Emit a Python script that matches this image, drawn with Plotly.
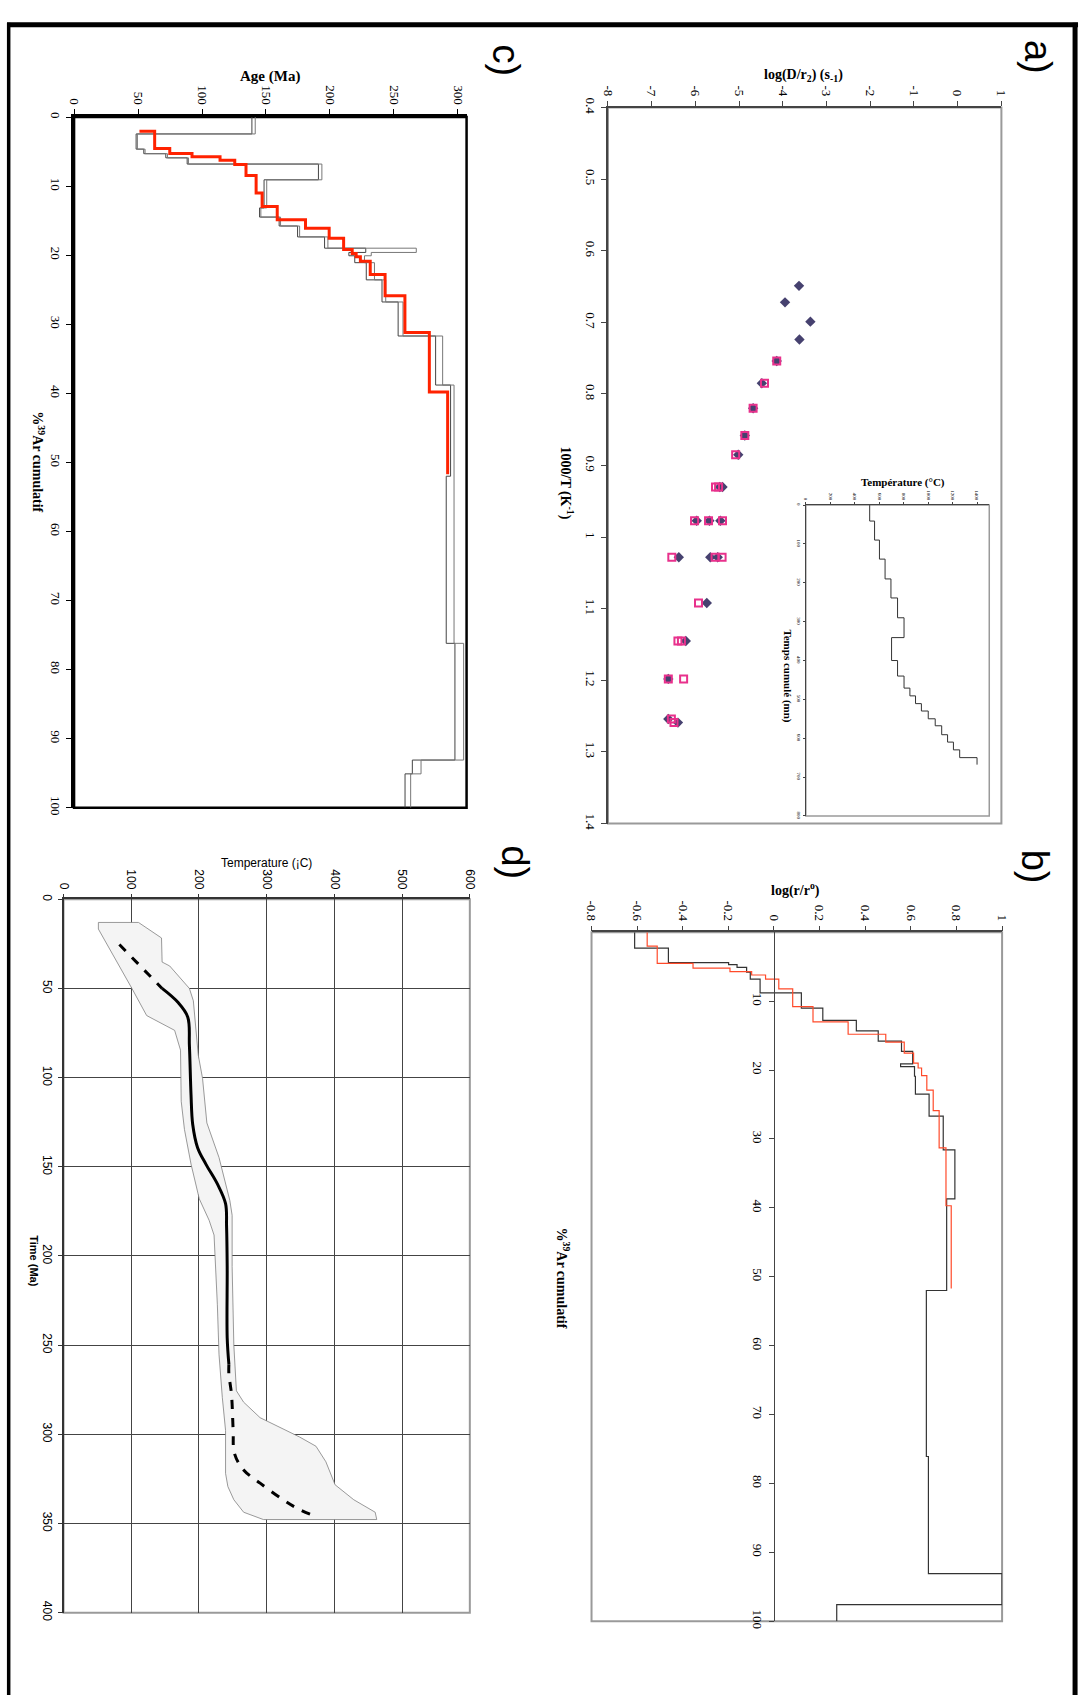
import plotly.graph_objects as go

W, H = 1088, 1704
SERIF = "Liberation Serif"
SANS = "Liberation Sans"

# ---------------- data ----------------
# a) Arrhenius plot
invT_diamond = [0.649, 0.672, 0.699, 0.724, 0.754, 0.785, 0.820, 0.858, 0.885, 0.930, 0.930,
                0.977, 0.977, 0.977, 1.028, 1.028, 1.028, 1.092, 1.145, 1.198, 1.254, 1.259]
logD_diamond = [-3.63, -3.95, -3.37, -3.62, -4.14, -4.48, -4.68, -4.87, -5.02, -5.44, -5.38,
                -5.97, -5.68, -5.43, -6.38, -5.66, -5.49, -5.74, -6.22, -6.62, -6.62, -6.40]
invT_square = [0.754, 0.785, 0.820, 0.858, 0.885, 0.930, 0.930, 0.977, 0.977, 0.977,
               1.028, 1.028, 1.028, 1.092, 1.145, 1.145, 1.198, 1.198, 1.254, 1.259]
logD_square = [-4.14, -4.42, -4.68, -4.87, -5.08, -5.54, -5.47, -6.02, -5.70, -5.38,
               -6.54, -5.55, -5.39, -5.93, -6.40, -6.32, -6.62, -6.27, -6.55, -6.49]

# a) inset: heating schedule
inset_time_bounds = [0, 41, 90, 139, 190, 239, 290, 341, 400, 440, 471, 491, 511, 530, 550,
                     568, 591, 610, 630, 650, 668]
inset_temp = [522, 562, 602, 648, 696, 750, 803, 701, 750, 803, 851, 897, 945, 1001, 1058,
              1111, 1159, 1207, 1258, 1400]

# b) log(r/ro) spectra
b_black_bounds = [0, 2.3, 4.4, 4.7, 5.1, 5.8, 6.8, 8.8, 11.0, 12.8, 14.3, 15.8, 17.3, 19.1, 19.5,
                  20.9, 23.5, 26.7, 31.6, 38.7, 52.0, 76.1, 93.1, 97.6, 100]
b_black_vals = [-0.611, -0.463, -0.199, -0.162, -0.120, -0.104, -0.061, 0.120, 0.214, 0.361,
                0.457, 0.559, 0.608, 0.555, 0.616, 0.620, 0.680, 0.742, 0.793, 0.757, 0.668,
                0.677, 1.0, 0.275]
b_red_bounds = [0, 2.0, 4.5, 5.2, 5.7, 6.2, 6.8, 8.2, 10.8, 13.0, 14.8, 15.95, 17.55, 19.0,
                19.7, 20.8, 22.9, 25.9, 31.3, 39.7, 51.7]
b_red_vals = [-0.556, -0.512, -0.355, -0.193, -0.098, -0.037, 0.021, 0.082, 0.171, 0.325,
              0.490, 0.571, 0.612, 0.632, 0.647, 0.670, 0.698, 0.724, 0.754, 0.777]

# c) age spectrum (boxes: low / high) and model (red)
c_bounds = [0, 2.44, 4.64, 5.3, 5.9, 6.8, 9.08, 13.15, 14.48, 15.77, 17.35, 18.98, 19.6, 20.08,
            21.08, 23.57, 26.77, 31.7, 38.8, 52.0, 76.2, 93.1, 95.1, 100]
c_age_low = [139.0, 48.5, 54.5, 71.7, 88.4, 191.0, 148.5, 145.0, 160.3, 174.7, 195.8, 228.0,
             214.8, 219.4, 228.4, 240.7, 253.3, 282.6, 294.3, 290.9, 297.7, 264.4, 258.7]
c_age_high = [141.6, 49.5, 55.5, 73.0, 89.4, 193.7, 150.6, 146.0, 161.4, 176.3, 198.4, 267.5,
              232.3, 227.0, 234.8, 243.6, 257.1, 288.1, 297.0, 297.0, 304.5, 271.2, 263.1]
c_red_start_age = 51.1
c_red_bounds = [2.06, 4.54, 5.26, 5.74, 6.26, 6.88, 8.46, 10.99, 12.95, 14.87, 16.11, 17.54,
                19.17, 19.74, 20.22, 20.89, 22.8, 25.86, 31.2, 39.8, 51.7]
c_red_ages = [63.0, 74.8, 92.2, 114.1, 125.6, 134.4, 142.3, 147.0, 158.8, 180.9, 199.4, 210.7,
              217.4, 220.5, 223.8, 231.5, 243.1, 258.6, 277.7, 292.0]

# d) thermal history
env_right_T = [110.7, 144.7, 145.6, 156.8, 185.9, 191.7, 199.0, 205.3, 211.7, 229.6, 245.6, 249.0,
               249.0, 251.5, 255.3, 266.0, 290.3, 319.4, 348.5, 372.8, 387.4, 401.0, 428.6, 460.2,
               462.6]
env_right_t = [13.0, 21.7, 35.2, 37.4, 50.0, 56.9, 87.4, 100.4, 125.4, 144.8, 168.9, 177.2,
               206.0, 250.0, 275.6, 282.0, 290.7, 296.3, 301.5, 306.7, 315.4, 328.3, 336.7, 343.7,
               347.8]
env_left_T = [295.1, 266.0, 251.5, 242.7, 239.3, 239.3, 234.5, 229.6, 227.2, 223.3, 222.3, 215.0,
              200.5, 188.3, 178.6, 173.8, 172.8, 164.1, 122.8, 101.0, 51.5, 51.5]
env_left_t = [347.8, 343.7, 336.7, 329.3, 321.9, 297.8, 279.3, 255.2, 227.4, 199.6, 188.3, 180.0,
              168.0, 148.5, 129.1, 113.3, 84.6, 73.5, 65.2, 50.0, 16.7, 13.0]
path_dash1_T = [82.5, 145.6]
path_dash1_t = [25.4, 50.0]
path_solid_T = [145.6, 168.9, 183.5, 185.9, 188.3, 190.8, 198.0, 210.2, 227.2, 239.3, 240.8,
                241.7, 241.7, 244.2]
path_solid_t = [50.0, 57.8, 66.1, 81.9, 109.6, 126.3, 139.3, 148.5, 159.6, 170.7, 183.7, 206.0,
                245.9, 260.7]
path_dash2_T = [244.2, 244.2, 248.0, 250.5, 252.4, 266.0, 290.3, 324.3, 348.5, 373.8]
path_dash2_t = [260.7, 266.3, 277.4, 297.8, 310.7, 320.0, 327.4, 336.7, 342.2, 346.3]

# tick labels
a_xticks = list(range(-8, 2))
a_yticks = [0.4, 0.5, 0.6, 0.7, 0.8, 0.9, 1.0, 1.1, 1.2, 1.3, 1.4]
a_ytext = ["0.4", "0.5", "0.6", "0.7", "0.8", "0.9", "1", "1.1", "1.2", "1.3", "1.4"]
ins_xticks = list(range(0, 1600, 200))
ins_yticks = list(range(0, 900, 100))
b_xticks = [-0.8, -0.6, -0.4, -0.2, 0, 0.2, 0.4, 0.6, 0.8, 1]
b_xtext = ["-0.8", "-0.6", "-0.4", "-0.2", "0", "0.2", "0.4", "0.6", "0.8", "1"]
b_yticks = list(range(10, 110, 10))
c_xticks = list(range(0, 350, 50))
c_yticks = list(range(0, 110, 10))
d_xticks = list(range(0, 700, 100))
d_yticks = list(range(0, 450, 50))


# ---------------- helpers ----------------
def fx(p):
    return p / W


def fy(p):
    return 1 - p / H


def steps(bounds, vals):
    xs, ys = [], []
    for i, v in enumerate(vals):
        xs += [v, v]
        ys += [bounds[i], bounds[i + 1]]
    return xs, ys


# panel boxes in px: (left, top, right, bottom)
PA = (609.4, 98.7, 1008.3, 822.7)
PI = (810, 500.7, 996, 815)
PB = (592.7, 932.7, 1009, 1629.3)
PC = (68, 108.3, 466, 806.7)
PD = (57.3, 899.3, 469.3, 1620.7)


def dom(p):
    return [fx(p[0]), fx(p[2])], [fy(p[3]), fy(p[1])]


fig = go.Figure()

# a)
fig.add_trace(go.Scatter(x=logD_diamond, y=invT_diamond, mode="markers", xaxis="x", yaxis="y",
                         marker=dict(symbol="diamond", size=8, color="#46416F"), showlegend=False))
fig.add_trace(go.Scatter(x=logD_square, y=invT_square, mode="markers", xaxis="x", yaxis="y",
                         marker=dict(symbol="square-open", size=7, color="#E8318C",
                                     line=dict(width=2, color="#E8318C")), showlegend=False))
# inset
ix, iy = steps(inset_time_bounds, inset_temp)
fig.add_trace(go.Scatter(x=ix, y=iy, mode="lines", xaxis="x2", yaxis="y2",
                         line=dict(color="#333333", width=1), showlegend=False))
# b)
bx, by = steps(b_black_bounds, b_black_vals)
fig.add_trace(go.Scatter(x=bx, y=by, mode="lines", xaxis="x3", yaxis="y3",
                         line=dict(color="#333333", width=1.2), showlegend=False))
rx, ry = steps(b_red_bounds, b_red_vals)
fig.add_trace(go.Scatter(x=rx, y=ry, mode="lines", xaxis="x3", yaxis="y3",
                         line=dict(color="#FF4A2A", width=1.2), showlegend=False))
# c)
lx, ly = steps(c_bounds, c_age_low)
hx, hy = steps(c_bounds, c_age_high)
fig.add_trace(go.Scatter(x=lx, y=ly, mode="lines", xaxis="x4", yaxis="y4",
                         line=dict(color="#444444", width=1), showlegend=False))
fig.add_trace(go.Scatter(x=hx, y=hy, mode="lines", xaxis="x4", yaxis="y4",
                         line=dict(color="#777777", width=1), showlegend=False))
cx, cy = steps(c_red_bounds, c_red_ages)
fig.add_trace(go.Scatter(x=[c_red_start_age] + cx, y=[c_red_bounds[0]] + cy, mode="lines",
                         xaxis="x4", yaxis="y4", line=dict(color="#FF2200", width=3),
                         showlegend=False))
# d)
fig.add_trace(go.Scatter(x=env_right_T + env_left_T + [env_right_T[0]],
                         y=env_right_t + env_left_t + [env_right_t[0]],
                         mode="lines", fill="toself", fillcolor="#F4F4F4",
                         line=dict(color="#808080", width=0.8), xaxis="x5", yaxis="y5",
                         showlegend=False))
fig.add_trace(go.Scatter(x=path_dash1_T, y=path_dash1_t, mode="lines", xaxis="x5", yaxis="y5",
                         line=dict(color="black", width=3, dash="dash"), showlegend=False))
fig.add_trace(go.Scatter(x=path_solid_T, y=path_solid_t, mode="lines", xaxis="x5", yaxis="y5",
                         line=dict(color="black", width=3, shape="spline"), showlegend=False))
fig.add_trace(go.Scatter(x=path_dash2_T, y=path_dash2_t, mode="lines", xaxis="x5", yaxis="y5",
                         line=dict(color="black", width=3, dash="dash", shape="spline"),
                         showlegend=False))


def xax(p, rng, tv, tt, anchor, font, size, lc="#444444", lw=1.5, grid=False, ticklen=5):
    d, _ = dom(p)
    return dict(domain=d, range=rng, side="top", anchor=anchor, tickvals=tv, ticktext=tt,
                tickangle=90, ticks="outside", ticklen=ticklen, tickcolor=lc,
                showline=True, linecolor=lc, linewidth=lw, showgrid=grid,
                gridcolor="#444444", gridwidth=1, zeroline=False,
                tickfont=dict(family=font, size=size, color="black"))


def yax(p, rng, tv, tt, anchor, font, size, lc="#444444", lw=1.5, grid=False, ticklen=5):
    _, d = dom(p)
    return dict(domain=d, range=rng, anchor=anchor, tickvals=tv, ticktext=tt,
                tickangle=90, ticks="outside", ticklen=ticklen, tickcolor=lc,
                showline=True, linecolor=lc, linewidth=lw, showgrid=grid,
                gridcolor="#444444", gridwidth=1, zeroline=False,
                tickfont=dict(family=font, size=size, color="black"))


layout = dict(width=W, height=H, autosize=False, margin=dict(l=0, r=0, t=0, b=0),
              paper_bgcolor="white", plot_bgcolor="rgba(0,0,0,0)", showlegend=False)
layout["xaxis"] = xax(PA, [-8, 1], a_xticks, [str(v) for v in a_xticks], "y", SERIF, 13)
layout["yaxis"] = yax(PA, [1.4, 0.4], a_yticks, a_ytext, "x", SERIF, 13)
layout["xaxis2"] = xax(PI, [0, 1500], ins_xticks, [str(v) for v in ins_xticks], "y2", SERIF, 5,
                       lw=1, ticklen=2)
layout["yaxis2"] = yax(PI, [800, 0], ins_yticks, [str(v) for v in ins_yticks], "x2", SERIF, 5,
                       lw=1, ticklen=2)
layout["xaxis3"] = xax(PB, [-0.8, 1], b_xticks, b_xtext, "y3", SERIF, 13)
yb = yax(PB, [100, 0], b_yticks, [str(v) for v in b_yticks], "free", SERIF, 13, lw=1.2)
yb["position"] = fx(PB[0] + (0 - (-0.8)) / 1.8 * (PB[2] - PB[0]))
layout["yaxis3"] = yb
layout["xaxis4"] = xax(PC, [0, 306.8], c_xticks, [str(v) for v in c_xticks], "y4", SERIF, 13,
                       lc="black", lw=2.5)
layout["yaxis4"] = yax(PC, [100, 0], c_yticks, [str(v) for v in c_yticks], "x4", SERIF, 13,
                       lc="black", lw=2.5)
layout["xaxis5"] = xax(PD, [0, 600], d_xticks, [str(v) for v in d_xticks], "y5", SANS, 12,
                       lc="#333333", lw=1.5, grid=True, ticklen=4)
layout["yaxis5"] = yax(PD, [400, 0], d_yticks, [str(v) for v in d_yticks], "x5", SANS, 12,
                       lc="#333333", lw=1.5, grid=True, ticklen=4)
fig.update_layout(**layout)

# frames
shapes = []
for xr, yr, col, w in [("x", "y", "#9A9A9A", 2), ("x2", "y2", "#9A9A9A", 1.5),
                       ("x3", "y3", "#9A9A9A", 2), ("x4", "y4", "black", 2.5),
                       ("x5", "y5", "#9A9A9A", 2)]:
    shapes.append(dict(type="rect", xref=xr + " domain", yref=yr + " domain", x0=0, x1=1, y0=0,
                       y1=1, line=dict(color=col, width=w), layer="below"))
# outer black border (left, top, right)
shapes.append(dict(type="line", xref="paper", yref="paper", x0=fx(1.7), x1=fx(1.7), y0=0,
                   y1=fy(13), line=dict(color="black", width=3.5)))
shapes.append(dict(type="line", xref="paper", yref="paper", x0=0, x1=fx(1086), y0=fy(15),
                   y1=fy(15), line=dict(color="black", width=5)))
shapes.append(dict(type="line", xref="paper", yref="paper", x0=fx(1083), x1=fx(1083), y0=0,
                   y1=fy(13), line=dict(color="black", width=5)))
fig.update_layout(shapes=shapes)


def ann(text, x, y, size, family, angle=0, bold=True):
    t = "<b>" + text + "</b>" if bold else text
    return dict(text=t, x=fx(x), y=fy(y), xref="paper", yref="paper", showarrow=False,
                xanchor="center", yanchor="middle", textangle=angle,
                font=dict(family=family, size=size, color="black"))


annotations = [
    ann("a)", 1045, 47, 38, SANS, 90, bold=False),
    ann("b)", 1042, 866, 38, SANS, 90, bold=False),
    ann("c)", 506, 51, 38, SANS, 90, bold=False),
    ann("d)", 515, 862, 38, SANS, 90, bold=False),
    ann("log(D/r<sub>2</sub>) (s<sub>-1</sub>)", 808, 66, 14, SERIF),
    ann("1000/T (K<sup>-1</sup>)", 567, 478, 14, SERIF, 90),
    ann("Température (°C)", 909, 478, 11, SERIF),
    ann("Temps cumulé (mn)", 791, 673, 11, SERIF, 90),
    ann("log(r/r<sup>o</sup>)", 800, 889, 14, SERIF),
    ann("%<sup>39</sup>Ar cumulatif", 564, 1282, 14, SERIF, 90),
    ann("Age (Ma)", 267, 67, 15, SERIF),
    ann("%<sup>39</sup>Ar cumulatif", 32, 457, 14, SERIF, 90),
    ann("Temperature (¡C)", 263, 863, 12, SANS, 0, bold=False),
    ann("Time (Ma)", 27, 1265, 11, SANS, 90),
]
fig.update_layout(annotations=annotations)

fig.write_html("out.html", config={"displayModeBar": False},
               post_script="document.body.style.margin='0px';")
